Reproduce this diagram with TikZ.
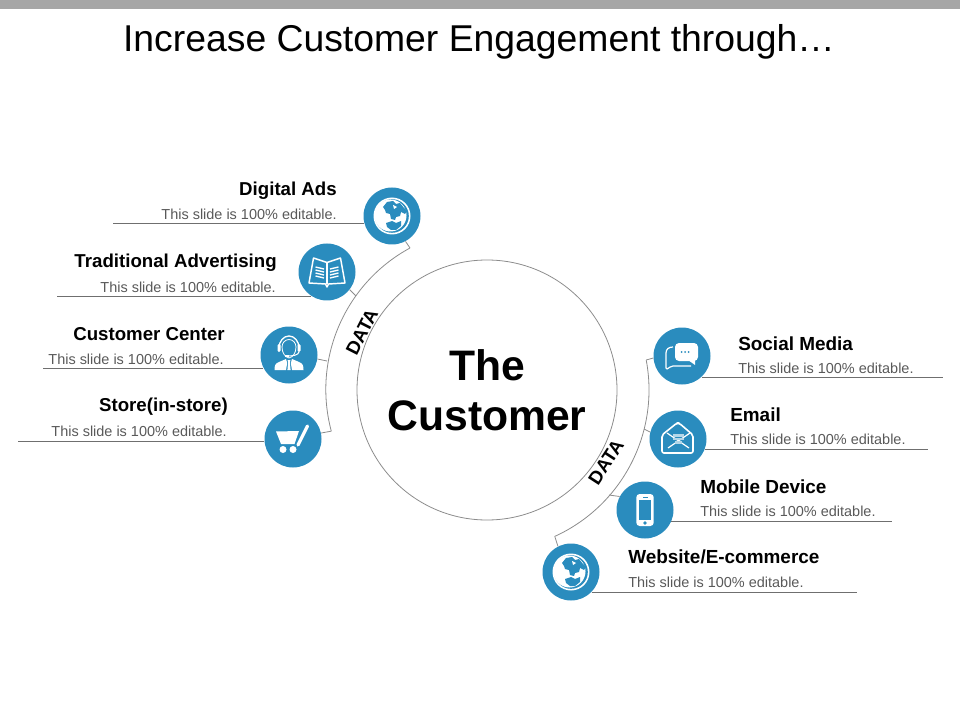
\documentclass[tikz,border=0pt]{standalone}
\usepackage{fontspec}
\setmainfont{Liberation Sans}
\usepackage{xcolor}
\usetikzlibrary{positioning}
\definecolor{topbar}{HTML}{A6A6A6}
\definecolor{dotblue}{HTML}{2A8CBE}
\definecolor{wirecol}{HTML}{8C8C8C}
\definecolor{rulecol}{HTML}{6F6F6F}
\definecolor{inkmuted}{HTML}{595959}
\tikzset{
  globeicon/.pic={
    \fill[white] (0,0) circle (18.5);
    \fill[dotblue] (0,0) circle (16.8);
    \fill[white] (-1.5,-0.5) circle (16);
    \fill[dotblue] (-9,-9) -- (-5,-14) -- (1,-15) -- (4,-12) -- (8,-13) -- (12,-8) -- (15,-5) -- (13,-2) -- (9,-4) -- (8,0)
      -- (4,1) -- (3,4) -- (-1,3) -- (-2,-2) -- (-6,-3) -- (-7,-6) -- cycle;
    \fill[dotblue] (-6,7) -- (0,5) -- (4,7) -- (9,5) -- (9,10) -- (4,14) -- (-1,14) -- (-5,11) -- cycle;
    \fill[white] (1,-11) -- (5,-9) -- (2,-7) -- cycle;
  },
  bookicon/.pic={
    \draw[white, line width=1.1pt, line join=round] (-13.5,-14) -- (0,-9.5) -- (13.5,-14)
      -- (18,11) -- (1.5,12) -- (0,15) -- (-1.5,12) -- (-18,11) -- cycle;
    \draw[white, line width=0.8pt] (0,-9.5) -- (0,12);
    \foreach \yy in {-4,-1,2,5} {
      \draw[white, line width=1pt] (-11.5,\yy-1) -- (-3,\yy+1);
      \draw[white, line width=1pt] (11.5,\yy-1) -- (3,\yy+1);
    }
  },
  headseticon/.pic={
    \draw[white, line width=1pt] (-10,-7) arc[start angle=180, end angle=360, x radius=10, y radius=12];
    \fill[white, rounded corners=1pt] (-11.5,-11) rectangle (-8.5,-3);
    \fill[white, rounded corners=1pt] (8.5,-11) rectangle (11.5,-3);
    \draw[white, line width=0.6pt] (-7,-8) arc[start angle=180, end angle=360, x radius=7, y radius=7.5];
    \draw[white, line width=0.6pt] (-7,-8) .. controls (-7,-2) and (-4,2) .. (0,3) .. controls (4,2) and (7,-2) .. (7,-8);
    \draw[white, line width=0.8pt] (10,-3) .. controls (9,0) and (5,1) .. (-2,1);
    \fill[white] (-4.5,0) rectangle (-0.5,2.2);
    \fill[white] (-3,4) -- (-10,7) .. controls (-14,8.5) and (-14.5,11) .. (-14.5,15) -- (-3,15) -- (-1.8,8) -- cycle;
    \fill[white] (3,4) -- (10,7) .. controls (14,8.5) and (14.5,11) .. (14.5,15) -- (3,15) -- (1.8,8) -- cycle;
    \fill[white] (-1.4,5) -- (1.4,5) -- (0.9,8) -- (1.6,15) -- (-1.6,15) -- (-0.9,8) -- cycle;
  },
  carticon/.pic={
    \fill[white] (-17,-7.5) -- (6,-8) -- (1.5,5) -- (-12,5) -- cycle;
    \draw[white, line width=2.4pt, line cap=round] (5,6) -- (14.5,-13);
    \fill[white] (-10,10.5) circle (3.5);
    \fill[white] (0,10.5) circle (3.5);
  },
  chaticon/.pic={
    \fill[white, rounded corners=3pt] (-7,-13) rectangle (16,5);
    \fill[white] (6,4) -- (13,9) -- (13,4) -- cycle;
    \foreach \xx in {-0.5,3,6.5} \fill[dotblue] (\xx,-4) circle (1);
    \draw[white, line width=0.9pt, line join=round] (-9,-9) .. controls (-13,-9) and (-16,-7) .. (-16,-3)
      -- (-16,12) -- (-15,13) .. controls (-12,12) and (-12,10) .. (-9,10) -- (9,10);
  },
  envelopeicon/.pic={
    \draw[white, line width=1.2pt, line join=round, rounded corners=1.5pt] (-16,-4) -- (-1,-16) -- (1,-16) -- (15,-4) -- (15,14) -- (-16,14) -- cycle;
    \draw[white, line width=0.9pt] (-10,9) -- (12,-6);
    \draw[white, line width=0.9pt] (11,9) -- (-11,-6);
    \fill[white!65!dotblue] (-5,-5) rectangle (6,-2.5);
    \fill[white!65!dotblue] (-5,-1.5) rectangle (6,1);
    \fill[white!65!dotblue] (-3,2) rectangle (4,5);
  },
  phoneicon/.pic={
    \fill[white, rounded corners=2.5pt] (-8.7,-16) rectangle (8.7,16);
    \fill[dotblue] (-6.3,-10) rectangle (6.3,10);
    \fill[dotblue] (0,13) circle (1.8);
    \fill[dotblue] (-2.5,-13.2) rectangle (2.5,-12.2);
  }
}
\begin{document}
\begin{tikzpicture}[x=0.75pt, y=-0.75pt,
  dot/.style={circle, fill=dotblue, minimum size=42.75pt, inner sep=0pt},
  wire/.style={draw=wirecol, line width=0.6pt},
  rulewire/.style={draw=rulecol, line width=0.75pt},
  headtext/.style={font=\fontsize{14}{16}\selectfont\bfseries, inner sep=0pt},
  headwide/.style={font=\fontsize{14.2}{16}\selectfont\bfseries, inner sep=0pt},
  subtext/.style={font=\fontsize{10.85}{13}\selectfont, text=inkmuted, inner sep=0pt},
  datatext/.style={font=\fontsize{14}{16}\selectfont\bfseries, inner sep=0pt}]
  \useasboundingbox (0,0) rectangle (960,720);
  \fill[topbar] (0,0) rectangle (960,9);
  \node[font=\fontsize{28}{32}\selectfont, inner sep=0pt] (title) at (479,42) {Increase Customer Engagement through…};

  % centre
  \node[circle, draw=wirecol, line width=0.6pt, minimum size=195pt, inner sep=0pt, align=center,
        font=\fontsize{32}{37.5}\selectfont\bfseries] (hub) at (487,390) {The\\Customer};

  % left side
  \node[dot] (digital) at (392,216) {};
  \node[dot] (traditional) at (327,272) {};
  \node[dot] (center) at (289,355) {};
  \node[dot] (store) at (293,439) {};
  \pic at (digital) {globeicon};
  \pic at (traditional) {bookicon};
  \pic at (center) {headseticon};
  \pic at (store) {carticon};

  \coordinate (digitaltick) at (410,248);
  \coordinate (traditionaltick) at (356,296);
  \coordinate (centertick) at (327,361);
  \draw[wire] (digitaltick) arc[start angle=241.5, end angle=165, radius=161] coordinate (storetick);
  \draw[wire] (digital.-62) -- (digitaltick);
  \draw[wire] (traditional.-38) -- (traditionaltick);
  \draw[wire] (center.-8) -- (centertick);
  \draw[wire] (store.12) -- (storetick);
  \node[datatext, rotate=63] (dataleft) at (362,332) {DATA};

  \coordinate (digitalend) at (113,223.5);
  \coordinate (traditionalend) at (57,296.5);
  \coordinate (centerend) at (43,368.5);
  \coordinate (storeend) at (18,441.5);
  \draw[rulewire] (digital.194 |- digitalend) -- (digitalend);
  \draw[rulewire] (traditional.-123 |- traditionalend) -- (traditionalend);
  \draw[rulewire] (center.-153 |- centerend) -- (centerend);
  \draw[rulewire] (store.184 |- storeend) -- (storeend);

  \node[headtext, anchor=base east] (digitalhead) at (337,196) {Digital Ads};
  \node[subtext, anchor=base east] (digitalsub) at (337,220) {This slide is 100\% editable.};
  \node[headtext, anchor=base east] (traditionalhead) at (277,268) {Traditional Advertising};
  \node[subtext, anchor=base east] (traditionalsub) at (276,292) {This slide is 100\% editable.};
  \node[headtext, anchor=base east] (centerhead) at (225,340.5) {Customer Center};
  \node[subtext, anchor=base east] (centersub) at (224,364) {This slide is 100\% editable.};
  \node[headtext, anchor=base east] (storehead) at (228,411.5) {Store(in-store)};
  \node[subtext, anchor=base east] (storesub) at (227,436) {This slide is 100\% editable.};

  % right side
  \node[dot] (social) at (682,356) {};
  \node[dot] (email) at (678,439) {};
  \node[dot] (mobile) at (645,510) {};
  \node[dot] (website) at (571,572) {};
  \pic at (social) {chaticon};
  \pic at (email) {envelopeicon};
  \pic at (mobile) {phoneicon};
  \pic at (website) {globeicon};

  \coordinate (socialtick) at (646.2,360);
  \coordinate (emailtick) at (644,429);
  \coordinate (mobiletick) at (609,495);
  \draw[wire] (socialtick) arc[start angle=-10.7, end angle=65.5, radius=161] coordinate (websitetick);
  \draw[wire] (social.184) -- (socialtick);
  \draw[wire] (email.166) -- (emailtick);
  \draw[wire] (mobile.152) -- (mobiletick);
  \draw[wire] (website.117) -- (websitetick);
  \node[datatext, rotate=57] (dataright) at (606,462) {DATA};

  \coordinate (socialend) at (943,377.5);
  \coordinate (emailend) at (928,449.5);
  \coordinate (mobileend) at (892,521.5);
  \coordinate (websiteend) at (857,592.5);
  \draw[rulewire] (social.-47 |- socialend) -- (socialend);
  \draw[rulewire] (email.-21 |- emailend) -- (emailend);
  \draw[rulewire] (mobile.-23 |- mobileend) -- (mobileend);
  \draw[rulewire] (website.-44 |- websiteend) -- (websiteend);

  \node[headwide, anchor=base west] (socialhead) at (738,350) {Social Media};
  \node[subtext, anchor=base west] (socialsub) at (738,373) {This slide is 100\% editable.};
  \node[headwide, anchor=base west] (emailhead) at (730,421) {Email};
  \node[subtext, anchor=base west] (emailsub) at (730,444) {This slide is 100\% editable.};
  \node[headwide, anchor=base west] (mobilehead) at (700,493) {Mobile Device};
  \node[subtext, anchor=base west] (mobilesub) at (700,516) {This slide is 100\% editable.};
  \node[headwide, anchor=base west] (websitehead) at (628,563) {Website/E-commerce};
  \node[subtext, anchor=base west] (websitesub) at (628,587) {This slide is 100\% editable.};
\end{tikzpicture}
\end{document}
